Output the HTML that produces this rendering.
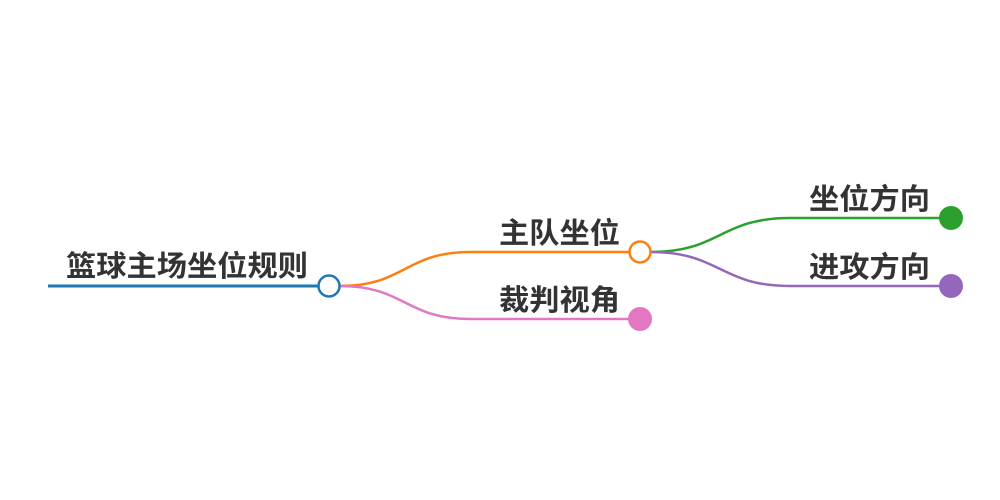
<!DOCTYPE html>
<html><head><meta charset="utf-8"><style>
html,body{margin:0;padding:0;background:#fff;width:1000px;height:500px;overflow:hidden}
text{font-family:"Liberation Sans","Noto Sans CJK SC",sans-serif;font-size:29px;font-weight:bold;fill:#333}
</style></head><body>
<svg width="1000" height="500" xmlns="http://www.w3.org/2000/svg">
<path d="M48 286 H318" stroke="#1f77b4" stroke-width="3" fill="none"/>
<path d="M340 286 C405 286,405 252,470 252 H629" stroke="#ff7f0e" stroke-width="2.5" fill="none"/>
<path d="M340 286 C405 286,405 319,470 319 H629" stroke="#e377c2" stroke-width="2.5" fill="none"/>
<path d="M651 252 C720 252,720 218,790 218 H940" stroke="#2ca02c" stroke-width="2.5" fill="none"/>
<path d="M651 252 C720 252,720 286,790 286 H940" stroke="#9467bd" stroke-width="2.5" fill="none"/>
<circle cx="329" cy="286" r="10.5" fill="#fff" stroke="#1f77b4" stroke-width="2.5"/>
<circle cx="640" cy="252" r="10.5" fill="#fff" stroke="#ff7f0e" stroke-width="2.5"/>
<circle cx="640" cy="319" r="11.5" fill="#e377c2" stroke="#e377c2" stroke-width="1"/>
<circle cx="951" cy="218" r="11.5" fill="#2ca02c" stroke="#2ca02c" stroke-width="1"/>
<circle cx="951" cy="286" r="11.5" fill="#9467bd" stroke="#9467bd" stroke-width="1"/>
<text x="66" y="276" textLength="242" lengthAdjust="spacingAndGlyphs">篮球主场坐位规则</text>
<text x="499" y="243" textLength="121" lengthAdjust="spacingAndGlyphs">主队坐位</text>
<text x="499" y="310" textLength="121" lengthAdjust="spacingAndGlyphs">裁判视角</text>
<text x="809" y="209" textLength="121" lengthAdjust="spacingAndGlyphs">坐位方向</text>
<text x="809" y="277" textLength="121" lengthAdjust="spacingAndGlyphs">进攻方向</text>
</svg>
</body></html>
